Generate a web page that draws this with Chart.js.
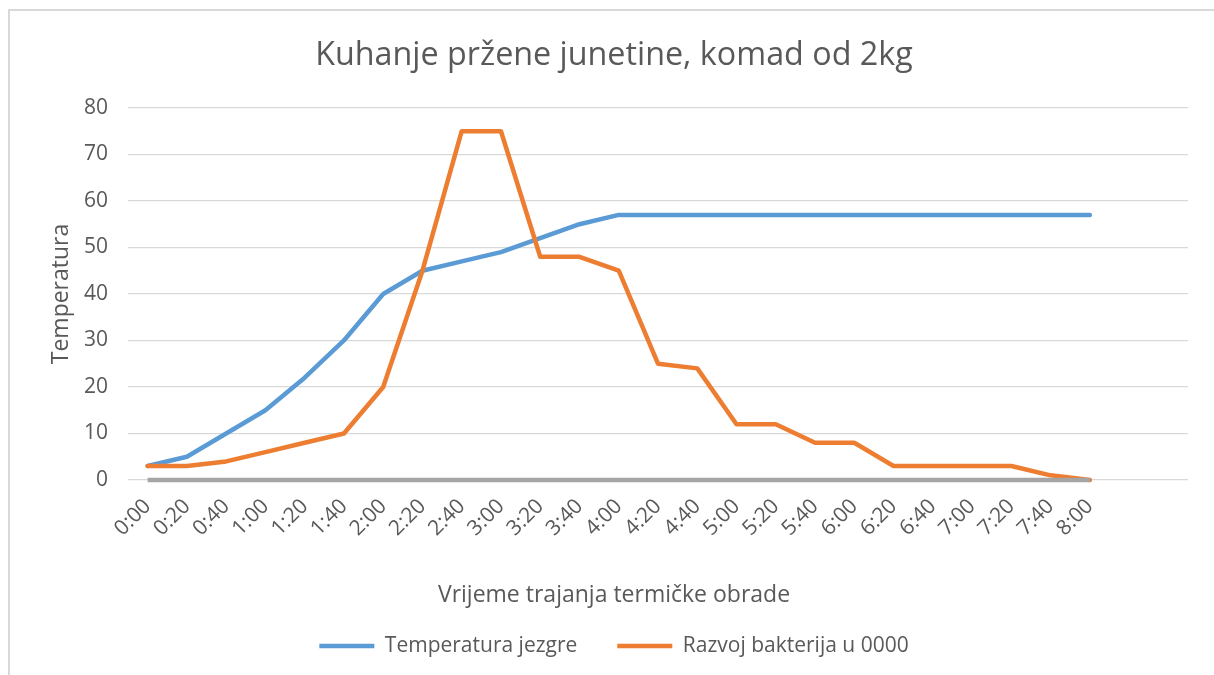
<!DOCTYPE html>
<html>
<head>
<meta charset="utf-8">
<title>Kuhanje pržene junetine</title>
<script src="https://cdn.jsdelivr.net/npm/chart.js@4.4.1/dist/chart.umd.min.js"></script>
<style>
    html, body { margin: 0; padding: 0; background: #fff; overflow: hidden; }
    #okvir {
        position: absolute; left: 8px; top: 9px; width: 1300px; height: 800px;
        border-top: 2px solid #D9D9D9; border-left: 2px solid #D9D9D9;
    }
    #omot { position: absolute; left: 8px; top: 0; width: 1212px; height: 675px; }
</style>
</head>
<body>
<div id="okvir"></div>
<div id="omot"><canvas id="grafikon" width="1212" height="675"></canvas></div>
<script>
// vremenske oznake (zadnje dvije kategorije su prazne kao u Excelu)
const vrijeme = ['0:00', '0:20', '0:40', '1:00', '1:20', '1:40', '2:00', '2:20', '2:40',
    '3:00', '3:20', '3:40', '4:00', '4:20', '4:40', '5:00', '5:20', '5:40', '6:00',
    '6:20', '6:40', '7:00', '7:20', '7:40', '8:00', '', ''];
const temperaturaJezgre = [3, 5, 10, 15, 22, 30, 40, 45, 47, 49, 52, 55, 57,
    57, 57, 57, 57, 57, 57, 57, 57, 57, 57, 57, 57];
const razvojBakterija = [3, 3, 4, 6, 8, 10, 20, 45, 75, 75, 48, 48, 45,
    25, 24, 12, 12, 8, 8, 3, 3, 3, 3, 1, 0];
const nulta = [0, 0, 0, 0, 0, 0, 0, 0, 0, 0, 0, 0, 0,
    0, 0, 0, 0, 0, 0, 0, 0, 0, 0, 0, 0];
const yTicks = [0, 80, 10]; // min, max, korak

const sivaTekst = '#595959';
const font = 'Open Sans';

document.addEventListener('DOMContentLoaded', function() {
    crearGrafico();
});

function crearGrafico() {
    const ctx = document.getElementById('grafikon').getContext('2d');

    const linija = {
        borderWidth: 4.5,
        pointRadius: 0,
        pointHoverRadius: 0,
        tension: 0,
        fill: false,
        clip: 6,
        borderCapStyle: 'round',
        borderJoinStyle: 'round'
    };

    new Chart(ctx, {
        type: 'line',
        data: {
            labels: vrijeme,
            datasets: [
                Object.assign({
                    label: 'Temperatura jezgre',
                    data: temperaturaJezgre,
                    borderColor: '#5B9BD5',
                    backgroundColor: '#5B9BD5',
                    order: 2
                }, linija),
                Object.assign({
                    label: 'Razvoj bakterija u 0000',
                    data: razvojBakterija,
                    borderColor: '#ED7D31',
                    backgroundColor: '#ED7D31',
                    order: 1
                }, linija),
                Object.assign({
                    label: '',
                    data: nulta,
                    borderColor: '#A5A5A5',
                    backgroundColor: '#A5A5A5',
                    order: 0
                }, linija, { borderCapStyle: 'butt' })
            ]
        },
        options: {
            responsive: false,
            animation: false,
            layout: {
                padding: { left: 32, right: 32, top: 0, bottom: 8.5 }
            },
            plugins: {
                title: {
                    display: true,
                    text: 'Kuhanje pržene junetine, komad od 2kg',
                    color: sivaTekst,
                    font: { family: font, size: 32.3, weight: 'normal', lineHeight: 1.2 },
                    padding: { top: 36, bottom: 33.2 }
                },
                subtitle: {
                    display: true,
                    position: 'bottom',
                    text: 'Vrijeme trajanja termičke obrade',
                    color: sivaTekst,
                    font: { family: font, size: 23, weight: 'normal', lineHeight: 1.2 },
                    padding: { top: 0, bottom: -13.3 },
                    weight: 500
                },
                legend: {
                    position: 'bottom',
                    weight: 1000,
                    labels: {
                        color: sivaTekst,
                        font: { family: font, size: 21 },
                        usePointStyle: true,
                        pointStyle: 'line',
                        pointStyleWidth: 55,
                        padding: 40,
                        filter: function(item) { return item.text !== ''; },
                        sort: function(a, b) { return a.datasetIndex - b.datasetIndex; }
                    }
                },
                tooltip: { enabled: false }
            },
            scales: {
                x: {
                    grid: { display: false },
                    border: { display: false },
                    offset: true,
                    ticks: {
                        color: sivaTekst,
                        font: { family: font, size: 21 },
                        autoSkip: false,
                        maxRotation: 45,
                        minRotation: 45,
                        padding: 6
                    },
                    afterFit: function(scale) { scale.height = 101.2; }
                },
                y: {
                    min: yTicks[0],
                    max: yTicks[1],
                    grid: { color: '#D9D9D9', lineWidth: 1.2, drawTicks: false },
                    border: { display: false },
                    ticks: {
                        stepSize: yTicks[2],
                        color: sivaTekst,
                        font: { family: font, size: 21 },
                        padding: 20
                    },
                    title: {
                        display: true,
                        text: 'Temperatura',
                        color: sivaTekst,
                        font: { family: font, size: 23, weight: 'normal', lineHeight: 1.2 },
                        padding: { top: 8, bottom: 0 }
                    },
                    afterFit: function(scale) { scale.width = 88; }
                }
            }
        }
    });
}
</script>
</body>
</html>
